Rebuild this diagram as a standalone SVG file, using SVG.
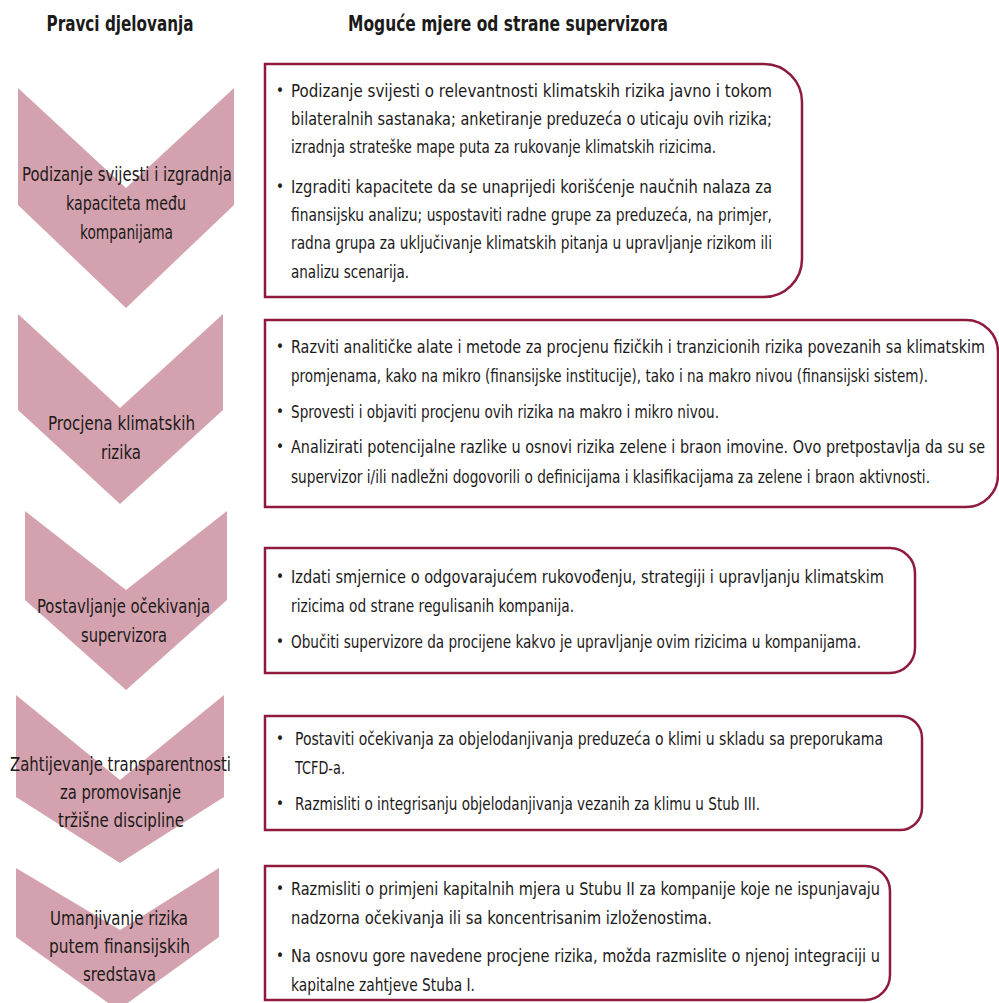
<svg xmlns="http://www.w3.org/2000/svg" width="999" height="1003" viewBox="0 0 999 1003">
<style>
.chev{fill:#d4a2ae}
.box{fill:#ffffff;stroke:#8e1b3d;stroke-width:2.5}
text{font-family:"Liberation Sans Narrow","DejaVu Sans Condensed","Liberation Sans",sans-serif;fill:#1c1a1a}
.h{font-size:21px;font-weight:bold;text-anchor:middle}
.l{font-size:19.5px}
.t{font-size:18.5px}
.bu{font-size:15px}
</style>
<rect width="999" height="1003" fill="#ffffff"/>
<g id="headers">
<text class="h" x="120" y="31" textLength="147" lengthAdjust="spacingAndGlyphs">Pravci djelovanja</text>
<text class="h" x="508" y="31" textLength="320" lengthAdjust="spacingAndGlyphs">Moguće mjere od strane supervizora</text>
</g>
<g id="connectors"></g>
<g id="n1">
<polygon class="chev" points="18,88 126,188 234,88 234,205 126,308 18,205"/>
<text class="l" x="22" y="181" textLength="210" lengthAdjust="spacingAndGlyphs">Podizanje svijesti i izgradnja</text>
<text class="l" x="66" y="210" textLength="120" lengthAdjust="spacingAndGlyphs">kapaciteta među</text>
<text class="l" x="80" y="239" textLength="93" lengthAdjust="spacingAndGlyphs">kompanijama</text>
</g>
<g id="n2">
<polygon class="chev" points="18,314 120,408 223,314 223,410 120,504 18,410"/>
<text class="l" x="48" y="430" textLength="147" lengthAdjust="spacingAndGlyphs">Procjena klimatskih</text>
<text class="l" x="101" y="459" textLength="40" lengthAdjust="spacingAndGlyphs">rizika</text>
</g>
<g id="n3">
<polygon class="chev" points="25,511 126,590 227,511 227,600 126,690 25,600"/>
<text class="l" x="37" y="613" textLength="173" lengthAdjust="spacingAndGlyphs">Postavljanje očekivanja</text>
<text class="l" x="81" y="642" textLength="86" lengthAdjust="spacingAndGlyphs">supervizora</text>
</g>
<g id="n4">
<polygon class="chev" points="16,695 120,780 224,695 224,797 120,863 16,797"/>
<text class="l" x="10" y="771" textLength="221" lengthAdjust="spacingAndGlyphs">Zahtijevanje transparentnosti</text>
<text class="l" x="60" y="799" textLength="121" lengthAdjust="spacingAndGlyphs">za promovisanje</text>
<text class="l" x="58" y="827" textLength="126" lengthAdjust="spacingAndGlyphs">tržišne discipline</text>
</g>
<g id="n5">
<polygon class="chev" points="16,868 120,930 219,868 219,937 118,1010 16,937"/>
<text class="l" x="50" y="925" textLength="138" lengthAdjust="spacingAndGlyphs">Umanjivanje rizika</text>
<text class="l" x="49" y="953" textLength="141" lengthAdjust="spacingAndGlyphs">putem finansijskih</text>
<text class="l" x="83" y="981" textLength="73" lengthAdjust="spacingAndGlyphs">sredstava</text>
</g>
<g id="b1">
<path class="box" d="M265,64 H764 A38,38 0 0 1 802,102 V259 A38,38 0 0 1 764,297 H265 Z"/>
<text class="bu" x="276" y="96">•</text>
<text class="t" x="291" y="97" textLength="481" lengthAdjust="spacingAndGlyphs">Podizanje svijesti o relevantnosti klimatskih rizika javno i tokom</text>
<text class="t" x="291" y="125" textLength="481" lengthAdjust="spacingAndGlyphs">bilateralnih sastanaka; anketiranje preduzeća o uticaju ovih rizika;</text>
<text class="t" x="291" y="153" textLength="425" lengthAdjust="spacingAndGlyphs">izradnja strateške mape puta za rukovanje klimatskih rizicima.</text>
<text class="bu" x="276" y="192">•</text>
<text class="t" x="291" y="193" textLength="481" lengthAdjust="spacingAndGlyphs">Izgraditi kapacitete da se unaprijedi korišćenje naučnih nalaza za</text>
<text class="t" x="291" y="221" textLength="481" lengthAdjust="spacingAndGlyphs">finansijsku analizu; uspostaviti radne grupe za preduzeća, na primjer,</text>
<text class="t" x="291" y="249" textLength="481" lengthAdjust="spacingAndGlyphs">radna grupa za uključivanje klimatskih pitanja u upravljanje rizikom ili</text>
<text class="t" x="291" y="278" textLength="118" lengthAdjust="spacingAndGlyphs">analizu scenarija.</text>
</g>
<g id="b2">
<path class="box" d="M265,320 H966 A32,32 0 0 1 998,352 V475 A32,32 0 0 1 966,507 H265 Z"/>
<text class="bu" x="276" y="352">•</text>
<text class="t" x="291" y="353" textLength="694" lengthAdjust="spacingAndGlyphs">Razviti analitičke alate i metode za procjenu fizičkih i tranzicionih rizika povezanih sa klimatskim</text>
<text class="t" x="291" y="382" textLength="637" lengthAdjust="spacingAndGlyphs">promjenama, kako na mikro (finansijske institucije), tako i na makro nivou (finansijski sistem).</text>
<text class="bu" x="276" y="417">•</text>
<text class="t" x="291" y="418" textLength="428" lengthAdjust="spacingAndGlyphs">Sprovesti i objaviti procjenu ovih rizika na makro i mikro nivou.</text>
<text class="bu" x="276" y="452">•</text>
<text class="t" x="291" y="453" textLength="694" lengthAdjust="spacingAndGlyphs">Analizirati potencijalne razlike u osnovi rizika zelene i braon imovine. Ovo pretpostavlja da su se</text>
<text class="t" x="291" y="483" textLength="639" lengthAdjust="spacingAndGlyphs">supervizor i/ili nadležni dogovorili o definicijama i klasifikacijama za zelene i braon aktivnosti.</text>
</g>
<g id="b3">
<path class="box" d="M265,548 H890 A25,25 0 0 1 915,573 V648 A25,25 0 0 1 890,673 H265 Z"/>
<text class="bu" x="276" y="582">•</text>
<text class="t" x="291" y="583" textLength="593" lengthAdjust="spacingAndGlyphs">Izdati smjernice o odgovarajućem rukovođenju, strategiji i upravljanju klimatskim</text>
<text class="t" x="291" y="612" textLength="283" lengthAdjust="spacingAndGlyphs">rizicima od strane regulisanih kompanija.</text>
<text class="bu" x="276" y="647">•</text>
<text class="t" x="291" y="648" textLength="570" lengthAdjust="spacingAndGlyphs">Obučiti supervizore da procijene kakvo je upravljanje ovim rizicima u kompanijama.</text>
</g>
<g id="b4">
<path class="box" d="M265,716 H900 A22,22 0 0 1 922,738 V808 A22,22 0 0 1 900,830 H265 Z"/>
<text class="bu" x="276" y="744">•</text>
<text class="t" x="295" y="745" textLength="588" lengthAdjust="spacingAndGlyphs">Postaviti očekivanja za objelodanjivanja preduzeća o klimi u skladu sa preporukama</text>
<text class="t" x="295" y="774" textLength="50" lengthAdjust="spacingAndGlyphs">TCFD-a.</text>
<text class="bu" x="276" y="809">•</text>
<text class="t" x="295" y="810" textLength="465" lengthAdjust="spacingAndGlyphs">Razmisliti o integrisanju objelodanjivanja vezanih za klimu u Stub III.</text>
</g>
<g id="b5">
<path class="box" d="M265,866 H865 A25,25 0 0 1 890,891 V975 A25,25 0 0 1 865,1000 H265 Z"/>
<text class="bu" x="276" y="894">•</text>
<text class="t" x="291" y="895" textLength="589" lengthAdjust="spacingAndGlyphs">Razmisliti o primjeni kapitalnih mjera u Stubu II za kompanije koje ne ispunjavaju</text>
<text class="t" x="291" y="924" textLength="421" lengthAdjust="spacingAndGlyphs">nadzorna očekivanja ili sa koncentrisanim izloženostima.</text>
<text class="bu" x="276" y="961">•</text>
<text class="t" x="291" y="962" textLength="589" lengthAdjust="spacingAndGlyphs">Na osnovu gore navedene procjene rizika, možda razmislite o njenoj integraciji u</text>
<text class="t" x="291" y="991" textLength="184" lengthAdjust="spacingAndGlyphs">kapitalne zahtjeve Stuba I.</text>
</g>
</svg>
